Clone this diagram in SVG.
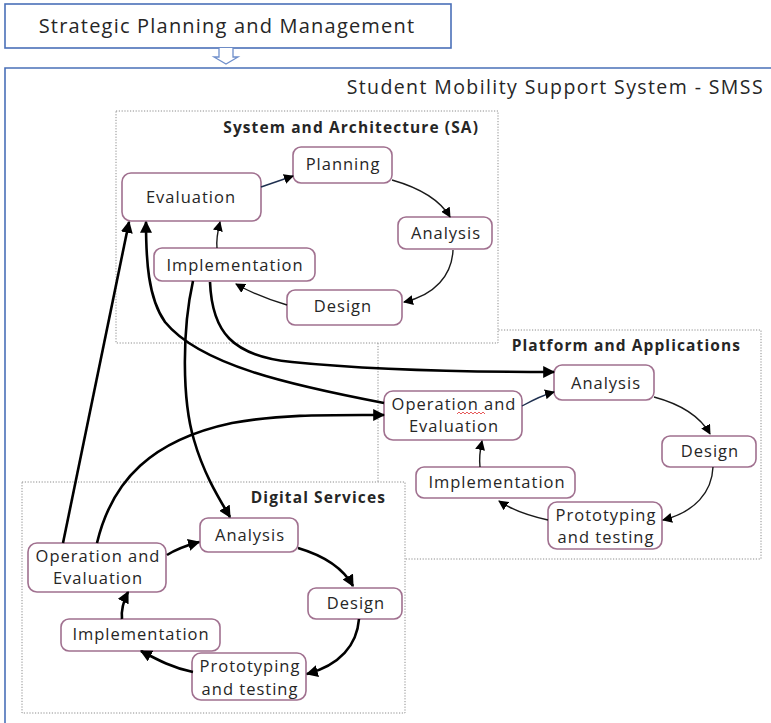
<svg xmlns="http://www.w3.org/2000/svg" width="771" height="723" viewBox="0 0 771 723">
  <style>
    .frame { fill: #ffffff; stroke: #4a70b8; stroke-width: 1.6; }
    .panel { fill: #ffffff; stroke: #8c8c8c; stroke-width: 1; stroke-dasharray: 1.2 1.6; }
    .node rect { fill: #ffffff; stroke: #a0708f; stroke-width: 1.6; }
    .node text { font-family: "Open Sans", "Liberation Sans", sans-serif; font-size: 16.5px; letter-spacing: 1px; fill: #262626; text-anchor: middle; }
    .title { font-family: "Open Sans", "Liberation Sans", sans-serif; fill: #262626; }
    .ptitle { font-family: "Open Sans", "Liberation Sans", sans-serif; font-size: 15.5px; letter-spacing: 1.1px; font-weight: bold; fill: #262626; text-anchor: end; }
    .thin { fill: none; stroke: #1a1a1a; stroke-width: 1.4; marker-end: url(#ah); }
    .thick { fill: none; stroke: #000000; stroke-width: 2.6; marker-end: url(#ahb); }
    .navy { stroke: #1f3050; }
  </style>
  <defs>
    <marker id="ah" viewBox="0 0 10 10" refX="9" refY="5" markerWidth="10" markerHeight="10" markerUnits="userSpaceOnUse" orient="auto">
      <path d="M0,0 L10,5 L0,10 Z" fill="#000"/>
    </marker>
    <marker id="ahb" viewBox="0 0 10 10" refX="9" refY="5" markerWidth="12" markerHeight="12" markerUnits="userSpaceOnUse" orient="auto">
      <path d="M0,0 L10,5 L0,10 Z" fill="#000"/>
    </marker>
  </defs>

  <!-- outer system frame -->
  <path class="frame" d="M5,723 L5,68 L771,68" fill="none" stroke-width="2"/>
  <text class="title" x="764" y="94" font-size="19.5" letter-spacing="1.4" text-anchor="end">Student Mobility Support System - SMSS</text>

  <!-- strategic layer on top -->
  <g id="strategic">
    <rect class="frame" x="5" y="4" width="446" height="44"/>
    <text class="title" x="227" y="33" font-size="20" letter-spacing="1.2" text-anchor="middle">Strategic Planning and Management</text>
  </g>
  <path d="M219,48 L219,57 L214,57 L226,64 L238,57 L233,57 L233,48" fill="#ffffff" stroke="#6f8fcb" stroke-width="1.3"/>

  <!-- sub-system panels -->
  <g id="panel-pa">
    <rect class="panel" x="378" y="330" width="383" height="229"/>
    <text class="ptitle" x="741" y="351">Platform and Applications</text>
  </g>
  <g id="panel-sa">
    <rect class="panel" x="116" y="111" width="382" height="232"/>
    <text class="ptitle" x="479" y="133">System and Architecture (SA)</text>
  </g>
  <g id="panel-ds">
    <rect class="panel" x="22" y="482" width="383" height="231"/>
    <text class="ptitle" x="386" y="503">Digital Services</text>
  </g>

  <!-- System and Architecture nodes -->
  <g id="sa-evaluation" class="node"><rect x="122" y="173" width="139" height="48" rx="9"/><text x="191" y="203">Evaluation</text></g>
  <g id="sa-planning" class="node"><rect x="293" y="147" width="99" height="36" rx="8"/><text x="343" y="170">Planning</text></g>
  <g id="sa-analysis" class="node"><rect x="398" y="217" width="94" height="32" rx="8"/><text x="446" y="239">Analysis</text></g>
  <g id="sa-implementation" class="node"><rect x="154" y="248" width="161" height="33" rx="8"/><text x="235" y="271">Implementation</text></g>
  <g id="sa-design" class="node"><rect x="287" y="290" width="115" height="35" rx="8"/><text x="343" y="312">Design</text></g>

  <!-- Platform and Applications nodes -->
  <g id="pa-analysis" class="node"><rect x="554" y="365" width="100" height="35" rx="8"/><text x="606" y="389">Analysis</text></g>
  <g id="pa-operation" class="node"><rect x="384" y="391" width="138" height="49" rx="9"/><text x="454" y="410">Operation and</text><text x="454" y="432">Evaluation</text></g>
  <g id="pa-design" class="node"><rect x="662" y="436" width="94" height="31" rx="8"/><text x="710" y="457">Design</text></g>
  <g id="pa-implementation" class="node"><rect x="416" y="467" width="159" height="31" rx="8"/><text x="497" y="488">Implementation</text></g>
  <g id="pa-prototyping" class="node"><rect x="548" y="502" width="114" height="47" rx="9"/><text x="606" y="521">Prototyping</text><text x="606" y="543">and testing</text></g>
  <path d="M457,414 l2,-2 l2,2 l2,-2 l2,2 l2,-2 l2,2 l2,-2 l2,2 l2,-2 l2,2 l2,-2 l2,2 l2,-2 l2,2" fill="none" stroke="#e03030" stroke-width="0.8"/>

  <!-- Digital Services nodes -->
  <g id="ds-analysis" class="node"><rect x="200" y="518" width="98" height="34" rx="8"/><text x="250" y="541">Analysis</text></g>
  <g id="ds-operation" class="node"><rect x="28" y="543" width="138" height="49" rx="9"/><text x="98" y="562">Operation and</text><text x="98" y="584">Evaluation</text></g>
  <g id="ds-design" class="node"><rect x="308" y="588" width="94" height="31" rx="8"/><text x="356" y="609">Design</text></g>
  <g id="ds-implementation" class="node"><rect x="61" y="619" width="159" height="32" rx="8"/><text x="141" y="640">Implementation</text></g>
  <g id="ds-prototyping" class="node"><rect x="192" y="653" width="114" height="47" rx="9"/><text x="250" y="672">Prototyping</text><text x="250" y="695">and testing</text></g>

  <g id="connectors">
    <!-- SA cycle -->
    <path class="thin navy" d="M261,187 L293,176"/>
    <path class="thin" d="M392,180 C420,188 440,200 450,217"/>
    <path class="thin" d="M453,250 C452,275 435,295 404,302"/>
    <path class="thin" d="M287,305 C270,300 250,292 236,284"/>
    <path class="thin" d="M217,248 C216,238 218,230 220,222"/>

    <!-- Platform cycle -->
    <path class="thin navy" d="M522,406 C533,400 543,395 554,392"/>
    <path class="thin" d="M654,397 C680,404 700,416 710,434"/>
    <path class="thin" d="M713,467 C712,492 695,512 663,520"/>
    <path class="thin" d="M548,520 C530,516 512,510 499,501"/>
    <path class="thin" d="M480,467 C479,458 480,450 482,441"/>

    <!-- Digital Services cycle -->
    <path class="thick" d="M167,555 C178,548 188,545 199,542"/>
    <path class="thick" d="M298,548 C325,556 343,568 353,586"/>
    <path class="thick" d="M359,619 C357,645 340,665 307,674"/>
    <path class="thick" d="M193,672 C173,668 158,660 141,651"/>
    <path class="thick" d="M122,619 C121,610 124,600 128,592"/>

    <!-- links between the three areas -->
    <path class="thick" d="M63,543 L129,222"/>
    <path class="thick" d="M384,403 C290,385 200,365 165,322 C148,298 146,260 146,222"/>
    <path class="thick" d="M193,281 C182,330 182,400 194,440 C204,475 220,500 230,517"/>
    <path class="thick" d="M210,282 C212,332 232,356 292,362 C360,369 450,372 554,372"/>
    <path class="thick" d="M97,543 C112,480 152,440 232,423 C282,414 330,415 384,415"/>
  </g>
</svg>
